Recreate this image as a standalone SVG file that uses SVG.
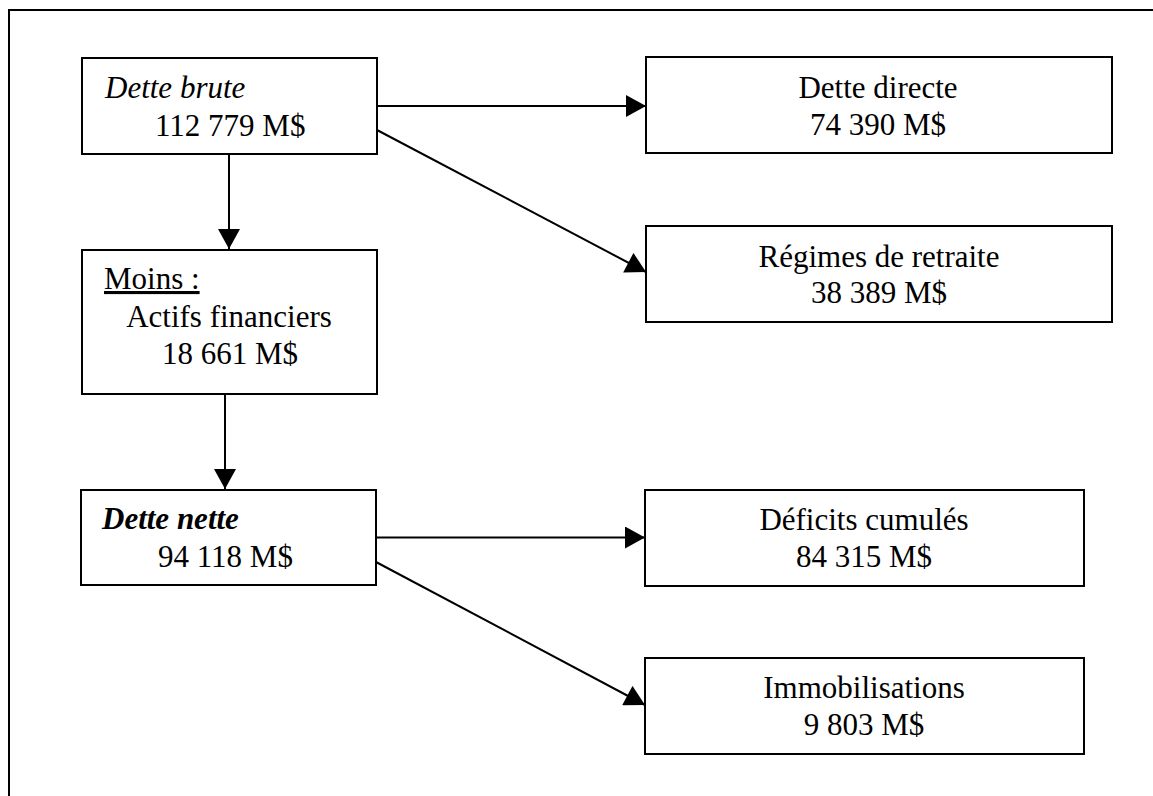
<svg xmlns="http://www.w3.org/2000/svg" width="1153" height="796" viewBox="0 0 1153 796">
<style>
  .box { fill: #ffffff; stroke: #000000; stroke-width: 2; }
  .t { font-family: "Liberation Serif", "Times New Roman", serif; font-size: 31px; fill: #000000; }
  .c { text-anchor: middle; }
  .it { font-style: italic; }
  .bi { font-style: italic; font-weight: bold; }
  .u { text-decoration: underline; }
  .conn { stroke: #000000; stroke-width: 2; fill: none; marker-end: url(#arrow); }
  .frame { stroke: #000000; stroke-width: 2; fill: none; }
</style>
<defs>
  <marker id="arrow" markerUnits="userSpaceOnUse" markerWidth="22" markerHeight="22" viewBox="0 0 20 22" refX="20" refY="11" orient="auto">
    <path d="M0,0 L20,11 L0,22 Z" fill="#000000"/>
  </marker>
</defs>
<rect width="1153" height="796" fill="#ffffff"/>
<path class="frame" d="M9,800 L9,10 L1153,10"/>

<g id="connectors">
  <line class="conn" x1="377" y1="106" x2="646" y2="106"/>
  <line class="conn" x1="377" y1="130" x2="646" y2="272"/>
  <line class="conn" x1="229" y1="154" x2="229" y2="249"/>
  <line class="conn" x1="225" y1="394" x2="225" y2="489"/>
  <line class="conn" x1="376" y1="537.5" x2="645" y2="537.5"/>
  <line class="conn" x1="376" y1="562" x2="645" y2="705"/>
</g>

<g id="dette-brute">
  <rect class="box" x="82" y="58" width="295" height="96"/>
  <text class="t it" x="105" y="98">Dette brute</text>
  <text class="t" x="155" y="136">112 779 M$</text>
</g>

<g id="actifs-financiers">
  <rect class="box" x="82" y="250" width="295" height="144"/>
  <text class="t u" x="104" y="289">Moins :</text>
  <text class="t c" x="229" y="327">Actifs financiers</text>
  <text class="t c" x="230" y="364">18 661 M$</text>
</g>

<g id="dette-nette">
  <rect class="box" x="81" y="490" width="295" height="95"/>
  <text class="t bi" x="102" y="529">Dette nette</text>
  <text class="t" x="158" y="567">94 118 M$</text>
</g>

<g id="dette-directe">
  <rect class="box" x="646" y="57" width="466" height="96"/>
  <text class="t c" x="878" y="98">Dette directe</text>
  <text class="t c" x="878" y="135">74 390 M$</text>
</g>

<g id="regimes-retraite">
  <rect class="box" x="646" y="226" width="466" height="96"/>
  <text class="t c" x="879" y="267">Régimes de retraite</text>
  <text class="t c" x="879" y="303">38 389 M$</text>
</g>

<g id="deficits-cumules">
  <rect class="box" x="645" y="490" width="439" height="96"/>
  <text class="t c" x="864" y="530">Déficits cumulés</text>
  <text class="t c" x="864" y="567">84 315 M$</text>
</g>

<g id="immobilisations">
  <rect class="box" x="645" y="658" width="439" height="96"/>
  <text class="t c" x="864" y="698">Immobilisations</text>
  <text class="t c" x="864" y="735">9 803 M$</text>
</g>
</svg>
